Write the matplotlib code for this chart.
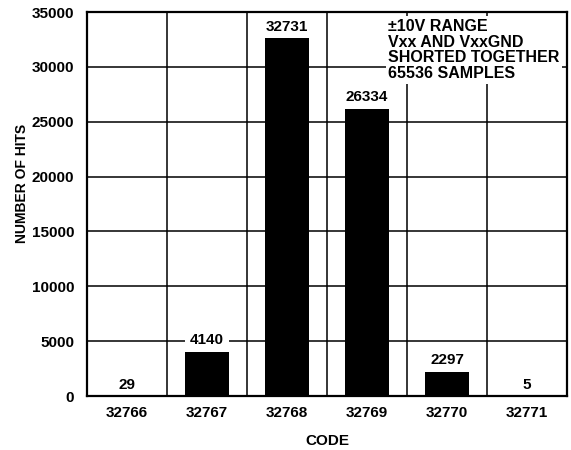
import matplotlib.pyplot as plt

plt.rcParams['font.family'] = ['Liberation Sans', 'DejaVu Sans']
plt.rcParams['font.weight'] = 'bold'

codes = ["32766", "32767", "32768", "32769", "32770", "32771"]
hits = [29, 4140, 32731, 26334, 2297, 5]
yticks = [0, 5000, 10000, 15000, 20000, 25000, 30000, 35000]
note = "±10V RANGE\nVxx AND VxxGND\nSHORTED TOGETHER\n65536 SAMPLES"

fig = plt.figure(figsize=(5.71, 4.5), dpi=100)
ax = fig.add_axes([0.152, 0.12, 0.841, 0.853])

x = list(range(len(codes)))
ax.bar(x, hits, width=0.55, color="black", zorder=2)

# grid: horizontal at ticks, vertical between codes
for v in yticks[1:-1]:
    ax.axhline(v, color="black", lw=1.1, zorder=1)
for i in range(len(codes) - 1):
    ax.axvline(i + 0.5, color="black", lw=1.1, zorder=1)

for i, h in enumerate(hits):
    ax.annotate(str(h), (i, h), xytext=(0, 2.5), textcoords="offset points",
                ha="center", va="bottom", fontsize=11, fontweight="bold",
                bbox=dict(facecolor="white", edgecolor="none", pad=3.5), zorder=3)

ax.text(0.628, 0.982, note, transform=ax.transAxes, ha="left", va="top",
        fontsize=11.5, fontweight="bold", linespacing=1.06,
        bbox=dict(facecolor="white", edgecolor="none", pad=2), zorder=3)

ax.set_xlim(-0.5, len(codes) - 0.5)
ax.set_ylim(0, 35000)
ax.set_xticks(x)
ax.set_xticklabels(codes)
ax.set_yticks(yticks)
ax.tick_params(length=0, labelsize=11)
ax.tick_params(axis="y", pad=9)
ax.tick_params(axis="x", pad=7)
for lab in ax.get_xticklabels() + ax.get_yticklabels():
    lab.set_fontweight("bold")
for s in ax.spines.values():
    s.set_linewidth(1.6)
    s.set_zorder(4)

ax.set_xlabel("CODE", fontsize=11, fontweight="bold", labelpad=10)
ax.set_ylabel("NUMBER OF HITS", fontsize=10, fontweight="bold")
ax.yaxis.set_label_coords(-0.12, 0.555)

plt.savefig("out.png", dpi=100)
